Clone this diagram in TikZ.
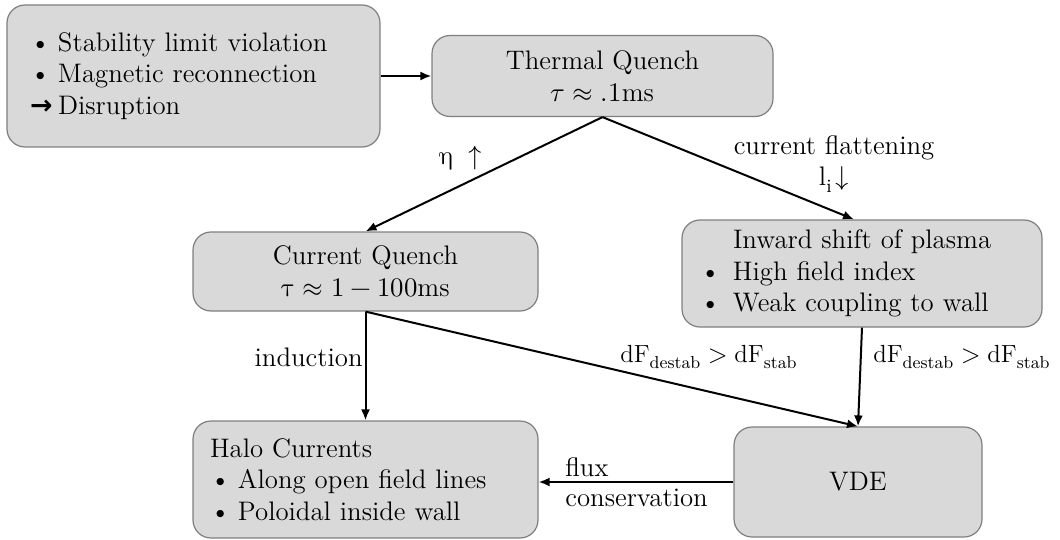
\documentclass[tikz,border=0pt]{standalone}
\usepackage{fontspec}
\usepackage{unicode-math}
\setmathfont{Latin Modern Math}
\usepackage{tikz}
\usetikzlibrary{arrows.meta}

\newfontfamily\arrowfont{DejaVu Sans}

\definecolor{boxfill}{HTML}{D9D9D9}
\definecolor{boxline}{HTML}{7F7F7F}

% bullet with a fixed indent
\newcommand{\bul}[1][14pt]{\makebox[#1][l]{\textbullet}}

\tikzset{
  stage/.style={draw=boxline, fill=boxfill, rounded corners=9pt, line width=0.6pt, inner sep=0pt},
  flow/.style={-{Latex[length=5.5pt,width=4.5pt]}, line width=1pt},
}

\begin{document}
\begin{tikzpicture}[x=0.5pt, y=-0.5pt, font=\fontsize{13.4}{15.8}\selectfont]
    \useasboundingbox (0,0) rectangle (1060,540);

    % Boxes
    \node[stage, minimum width=186.5pt, minimum height=71pt, text width=163.5pt, inner xsep=11.5pt, align=left]
        (cause) at (193.5,76) {\bul Stability limit violation\\ \bul Magnetic reconnection\\
        \makebox[14pt][l]{\arrowfont\bfseries →}Disruption};
    \node[stage, minimum width=170.5pt, minimum height=40.5pt, align=center]
        (thermal) at (602.5,76) {Thermal Quench\\ $\tau\approx.1$ms};
    \node[stage, minimum width=172.5pt, minimum height=39.5pt, align=center]
        (current) at (365.5,271.5) {Current Quench\\ $\symup{\tau}\approx 1-100$ms};
    \node[stage, minimum width=180pt, minimum height=53.5pt, text width=162pt, inner xsep=9pt, align=left]
        (inward) at (862,273.5) {\hspace*{16.5pt}Inward shift of plasma\\ \bul[16.5pt]High field index\\
        \bul[16.5pt]Weak coupling to wall};
    \node[stage, minimum width=124pt, minimum height=55pt]
        (vde) at (858,482) {VDE};
    \node[stage, minimum width=172.5pt, minimum height=58.5pt, text width=155.5pt, inner xsep=8.5pt, align=left]
        (halo) at (365.5,479.5) {Halo Currents\\ \bul Along open field lines\\ \bul Poloidal inside wall};

    % Arrows
    \draw[flow] (cause) -- (thermal);
    \draw[flow] (thermal.south) -- (current.north);
    \draw[flow] (thermal.south) -- ([xshift=-4pt]inward.north);
    \draw[flow] (current.south) -- (halo.north);
    \draw[flow] (current.south) -- (vde.north);
    \draw[flow] (inward.south) -- (vde.north);
    \draw[flow] (vde.west) -- (halo.east |- vde.west);

    % Labels
    \node (eta) at (461,158) {$\symup{\eta}\;\uparrow$};
    \node[align=center] (flat) at (834,164) {current flattening\\ $\mathrm{l_i}\!\downarrow$};
    \node[anchor=east, inner xsep=1pt] (induct) at (365,357) {induction};
    \node[anchor=west, inner xsep=0pt, font=\fontsize{12.4}{15}\selectfont] (destabA) at (620,357) {$\mathrm{dF_{destab}} > \mathrm{dF_{stab}}$};
    \node[anchor=west, inner xsep=0pt, font=\fontsize{12.4}{15}\selectfont] (destabB) at (873,357) {$\mathrm{dF_{destab}} > \mathrm{dF_{stab}}$};
    \node[anchor=west, inner xsep=0pt] (flux) at (565,467) {flux};
    \node[anchor=west, inner xsep=0pt] (conserv) at (565,498) {conservation};
\end{tikzpicture}
\end{document}
